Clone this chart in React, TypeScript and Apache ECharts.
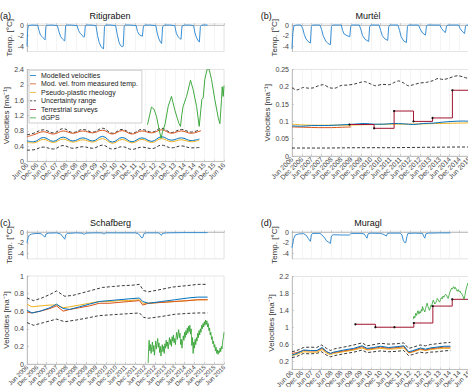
import { useEffect, useRef } from 'react';
import * as echarts from 'echarts';

// x values are months since Jun 2006 (tick every 6 months)
const xTicksShort = ['Jun 06','Dec 06','Jun 07','Dec 07','Jun 08','Dec 08','Jun 09','Dec 09','Jun 10','Dec 10','Jun 11','Dec 11','Jun 12','Dec 12','Jun 13','Dec 13','Jun 14','Dec 14','Jun 15','Dec 15','Jun 16'];
const xTicksLong = ['Jun 2006','Dec 2006','Jun 2007','Dec 2007','Jun 2008','Dec 2008','Jun 2009','Dec 2009','Jun 2010','Dec 2010','Jun 2011','Dec 2011','Jun 2012','Dec 2012','Jun 2013','Dec 2013','Jun 2014','Dec 2014','Jun 2015','Dec 2015','Jun 2016'];
const panelTitles = ['Ritigraben', 'Murtèl', 'Schafberg', 'Muragl'];
const panelLetters = ['(a)', '(b)', '(c)', '(d)'];
const legendNames = ['Modelled velocities', 'Mod. vel. from measured temp.', 'Pseudo-plastic rheology', 'Uncertainty range', 'Terrestrial surveys', 'dGPS'];

// ---------- Ritigraben ----------
const ritiTemp = [[0,-4.0],[0.4,-1.0],[0.8,-0.1],[3,0],[6.5,-0.05],[7.3,-1.0],[8.2,-1.9],[9.5,-2.3],[10.5,-2.6],[11,-2.8],[11.5,-0.3],[12,-0.05],[15,0],[18.5,-0.1],[19.5,-1.3],[20.5,-2.2],[21.5,-2.6],[22.5,-2.9],[23,-3.0],[23.5,-0.2],[24,0],[27,0],[30.5,-0.1],[31.5,-1.1],[32.5,-1.6],[33.5,-1.9],[34.5,-2.3],[35,-2.2],[35.5,-0.2],[36,0],[39,0],[42,-0.1],[43,-2.0],[44,-3.3],[45,-4.0],[46,-4.4],[46.6,-4.5],[47.2,-0.3],[48,0],[51,0],[54,-0.1],[55,-1.8],[56,-3.2],[57,-3.9],[58,-4.1],[58.6,-4.0],[59.2,-0.2],[60,0],[63,0],[66.5,-0.1],[67.3,-1.2],[68.3,-1.8],[69.5,-2.0],[70.3,-2.1],[70.9,-0.2],[72,0],[75,0],[78.5,-0.1],[79.3,-1.5],[80.3,-2.6],[81.3,-3.2],[82,-3.5],[82.6,-0.3],[84,0],[87,0],[90,-0.1],[91,-1.6],[92,-2.2],[93,-2.5],[93.8,-2.7],[94.4,-0.2],[96,0],[99,0],[101.5,-0.1],[102.3,-1.5],[103.3,-2.4],[104.3,-3.0],[105,-3.2],[105.6,-0.3],[106.5,0],[110,0]];
const ritiModel = [[0,0.54],[4,0.52],[10,0.63],[16,0.53],[22,0.64],[28,0.54],[34,0.62],[40,0.54],[46,0.66],[52,0.51],[58,0.63],[64,0.52],[70,0.62],[76,0.53],[82,0.65],[88,0.56],[94,0.62],[100,0.55],[105,0.59]];
const ritiPseudo = [[0,0.5],[4,0.49],[10,0.58],[16,0.5],[22,0.59],[28,0.51],[34,0.57],[40,0.51],[46,0.6],[52,0.48],[58,0.58],[64,0.49],[70,0.58],[76,0.5],[82,0.6],[88,0.52],[94,0.57],[100,0.52],[105,0.56]];
const ritiMeasured = [[0,0.65],[4,0.7],[10,0.78],[16,0.72],[22,0.8],[28,0.74],[34,0.8],[40,0.75],[46,0.82],[52,0.72],[58,0.81],[64,0.72],[70,0.8],[76,0.75],[82,0.83],[88,0.74],[94,0.8],[100,0.74],[106,0.81]];
const ritiUpper = [[0,0.7],[4,0.74],[10,0.83],[16,0.75],[22,0.86],[28,0.76],[34,0.84],[40,0.77],[46,0.87],[52,0.74],[58,0.84],[64,0.74],[70,0.84],[76,0.77],[82,0.87],[88,0.76],[94,0.84],[100,0.77],[105,0.83]];
const ritiLower = [[0,0.3],[4,0.31],[10,0.38],[16,0.33],[22,0.42],[28,0.35],[34,0.39],[40,0.35],[46,0.43],[52,0.33],[58,0.39],[64,0.32],[70,0.38],[76,0.34],[82,0.43],[88,0.36],[94,0.41],[100,0.36],[105,0.37]];
const ritiGPS = [[73.4,0.96],[75.8,1.42],[77.3,1.37],[78.9,1.18],[80.5,0.83],[81.7,0.61],[82.6,0.79],[84.1,0.98],[86,1.44],[88,1.7],[90,1.35],[92.5,1.0],[93.5,0.92],[94.3,1.22],[95.1,1.44],[97.2,1.7],[99.6,2.12],[101.2,1.88],[103.3,1.44],[104.9,0.92],[105.9,1.35],[106.5,1.62],[107.3,1.66],[108.3,2.14],[109.8,2.42],[111,2.4],[112.4,2.14],[114.4,1.62],[116.5,1.14],[117.5,0.99],[118.5,1.62],[118.9,1.95],[119.5,1.7],[120,1.98]];

// ---------- Murtel ----------
const murtelTemp = [[0,-4.5],[0.5,-1.5],[1.2,-0.1],[3,0],[5.5,0],[6.5,-0.6],[7.5,-1.8],[8.5,-2.6],[9.8,-3.1],[11.2,-3.4],[11.8,-0.3],[12.5,0],[17,0],[18,-0.8],[19,-2.0],[20.5,-3.0],[22,-3.5],[23.4,-3.7],[24,-0.3],[24.8,0],[30,0],[30.8,-1.0],[31.8,-1.7],[33.5,-2.0],[35.2,-2.2],[35.8,-0.2],[36.5,0],[41,0],[42,-0.9],[43,-2.0],[44.5,-2.7],[46.7,-3.1],[47.3,-0.3],[48,0],[53,0],[54,-1.0],[55,-2.0],[56.5,-2.6],[58.3,-2.9],[58.9,-0.3],[59.6,0],[64.5,0],[65.5,-1.0],[66.5,-2.2],[68,-3.0],[69.7,-3.3],[70.3,-0.3],[71,0],[77,0],[78,-0.7],[79.5,-1.5],[81.3,-1.9],[81.9,-0.2],[82.5,0],[90,0],[91,-0.6],[92.5,-1.2],[93.5,-1.4],[94.1,-0.2],[95,0],[101.5,0],[102.5,-0.7],[104,-1.3],[105.1,-1.6],[105.7,-0.2],[106.5,0],[110,0]];
const murtelModel = [[0,0.087],[6,0.086],[12,0.088],[20,0.088],[30,0.09],[38,0.092],[44,0.094],[50,0.092],[56,0.092],[62,0.094],[68,0.093],[74,0.091],[80,0.094],[86,0.095],[92,0.098],[98,0.1],[104,0.101],[110,0.1]];
const murtelPseudo = [[0,0.092],[6,0.09],[12,0.089],[20,0.089],[30,0.089],[40,0.09],[50,0.091],[60,0.092],[70,0.092],[80,0.093],[90,0.094],[100,0.095],[110,0.096]];
const murtelMeasured = [[0,0.084],[8,0.083],[16,0.082],[24,0.082],[30,0.083],[36,0.084]];
const murtelUpper = [[0,0.197],[3,0.191],[7,0.198],[10,0.196],[13,0.197],[16,0.203],[19,0.206],[23,0.197],[26,0.196],[30,0.204],[34,0.205],[38,0.208],[41,0.212],[44,0.215],[48,0.208],[51,0.203],[55,0.207],[59,0.206],[62,0.212],[65,0.217],[68,0.211],[71,0.203],[74,0.206],[78,0.211],[82,0.213],[86,0.218],[89,0.224],[92,0.221],[95,0.224],[98,0.229],[101,0.232],[104,0.229],[107,0.225],[110,0.226]];
const murtelLower = [[0,0.023],[20,0.023],[40,0.024],[60,0.024],[80,0.025],[100,0.026],[110,0.026]];
const murtelSurvey = [[35,0.091],[50,0.08],[62.2,0.13],[74,0.1],[85.6,0.11],[97.7,0.19],[110,0.19]];

// ---------- Schafberg ----------
const schafTemp = [[0,-2.0],[0.8,-0.9],[1.5,-0.5],[3,-0.3],[6,-0.2],[8.5,-0.25],[9.5,-0.5],[10.5,-0.8],[11,-0.9],[11.6,-0.3],[13,-0.15],[18,-0.1],[20.5,-0.3],[21.5,-0.7],[22.5,-1.1],[23,-1.3],[23.6,-0.5],[24.5,-0.2],[30,-0.1],[33.5,-0.15],[34.5,-0.3],[35.2,-0.35],[35.8,-0.15],[40,-0.1],[45.5,-0.1],[46.5,-0.25],[47.2,-0.3],[47.8,-0.1],[55,-0.1],[60,-0.1],[66,-0.1],[68,-0.3],[69,-0.7],[70,-1.1],[70.6,-0.9],[71.3,-0.2],[73,-0.1],[80,-0.1],[81,-0.3],[82,-0.55],[82.5,-0.2],[85,-0.1],[95,-0.05],[110,-0.05]];
const schafModel = [[0,0.61],[3,0.58],[8,0.6],[14,0.64],[18,0.68],[22,0.63],[26,0.62],[32,0.65],[38,0.68],[44,0.71],[50,0.72],[56,0.73],[62,0.74],[68.5,0.75],[70.5,0.71],[74,0.69],[82,0.71],[90,0.73],[98,0.75],[104,0.76],[110,0.76]];
const schafMeasured = [[0,0.59],[3,0.58],[8,0.6],[14,0.63],[18,0.66],[22,0.6],[26,0.62],[32,0.64],[38,0.66],[44,0.69],[50,0.69],[56,0.7],[62,0.71],[68.5,0.72],[70.5,0.67],[74,0.69],[82,0.7],[90,0.71],[98,0.72],[104,0.73],[110,0.73]];
const schafPseudo = [[0,0.68],[3,0.65],[8,0.66],[14,0.67],[18,0.67],[22,0.64],[26,0.65],[32,0.67],[38,0.69],[44,0.71],[50,0.71],[56,0.72],[62,0.72],[68.5,0.73],[70.5,0.69],[74,0.69],[82,0.7],[90,0.71],[98,0.72],[104,0.73],[110,0.73]];
const schafUpper = [[0,0.75],[4,0.72],[9,0.75],[14,0.79],[18,0.83],[23,0.77],[28,0.78],[34,0.81],[40,0.84],[46,0.87],[52,0.88],[58,0.89],[64,0.895],[68.5,0.905],[71,0.835],[74,0.82],[81,0.845],[89,0.875],[97,0.89],[104,0.905],[110,0.905]];
const schafLower = [[0,0.47],[4,0.44],[10,0.47],[18,0.51],[23,0.48],[30,0.5],[36,0.52],[44,0.55],[52,0.56],[60,0.57],[68.5,0.58],[71,0.53],[74,0.52],[82,0.54],[90,0.565],[98,0.575],[104,0.58],[110,0.58]];
const schafGPS = [[73.8,0.01],[74.1,0.18],[74.4,0.27],[74.8,0.15],[75.2,0.22],[75.6,0.12],[76,0.2],[76.4,0.25],[76.8,0.14],[77.2,0.21],[77.6,0.1],[78,0.18],[78.4,0.26],[78.8,0.17],[79.2,0.23],[79.6,0.29],[80,0.19],[80.4,0.24],[80.8,0.13],[81.2,0.2],[81.6,0.09],[82,0.16],[82.4,0.22],[82.8,0.14],[83.2,0.2],[83.6,0.12],[84,0.23],[84.4,0.18],[84.8,0.27],[85.2,0.2],[85.6,0.25],[86,0.17],[86.4,0.24],[86.8,0.3],[87.2,0.22],[87.6,0.28],[88,0.2],[88.4,0.31],[88.8,0.26],[89.2,0.33],[89.6,0.24],[90,0.29],[90.4,0.22],[90.8,0.3],[91.2,0.36],[91.6,0.28],[92,0.34],[92.4,0.39],[92.8,0.3],[93.2,0.35],[93.6,0.22],[94,0.28],[94.4,0.18],[94.8,0.25],[95.2,0.32],[95.6,0.27],[96,0.36],[96.4,0.3],[96.8,0.38],[97.2,0.33],[97.6,0.41],[98,0.35],[98.4,0.43],[98.8,0.37],[99.2,0.44],[99.6,0.34],[100,0.4],[100.4,0.21],[100.8,0.3],[101.2,0.12],[101.6,0.25],[102,0.18],[102.4,0.28],[102.8,0.22],[103.2,0.3],[103.6,0.26],[104,0.35],[104.4,0.3],[104.8,0.38],[105.2,0.33],[105.6,0.4],[106,0.36],[106.4,0.44],[106.8,0.4],[107.2,0.46],[107.6,0.42],[108,0.48],[108.4,0.44],[108.8,0.5],[109.2,0.45],[109.6,0.49],[110,0.42],[110.4,0.46],[110.8,0.38],[111.2,0.41],[111.6,0.33],[112,0.36],[112.4,0.28],[112.8,0.31],[113.2,0.23],[113.6,0.26],[114,0.19],[114.4,0.22],[114.8,0.15],[115.2,0.19],[115.6,0.12],[116,0.16],[116.4,0.11],[116.8,0.15],[117.2,0.13],[117.6,0.18],[118,0.14],[118.4,0.2],[118.8,0.17],[119.2,0.26],[119.6,0.3],[120,0.36]];

// ---------- Muragl ----------
const muraglTemp = [[0,-2.9],[1,-1.2],[2,-0.5],[4,-0.3],[7,-0.25],[8.5,-0.5],[10,-1.2],[11.2,-1.7],[11.8,-0.5],[12.5,-0.2],[17,-0.2],[18,-0.4],[19.5,-0.9],[21,-1.6],[22.5,-1.9],[23.4,-2.1],[24,-0.7],[25,-0.45],[30,-0.5],[35,-0.5],[36,-0.2],[42,-0.2],[44,-0.3],[45,-0.8],[45.7,-1.1],[46.3,-0.3],[48,-0.15],[54,-0.2],[56,-0.4],[57.5,-0.7],[58.1,-0.2],[60,-0.15],[66,-0.15],[67,-0.5],[67.8,-1.5],[68.5,-1.9],[69.3,-1.95],[70,-0.8],[70.6,-0.2],[75,-0.15],[79.5,-0.2],[80.3,-0.8],[80.9,-1.1],[81.5,-0.3],[83,-0.15],[90,-0.1],[96.5,-0.1]];
const muraglModel = [[0,0.34],[3,0.38],[7.1,0.46],[11.2,0.45],[15.2,0.45],[18.3,0.52],[21.3,0.42],[23.4,0.38],[25.4,0.41],[31.5,0.46],[37.6,0.5],[42.7,0.56],[45.7,0.5],[49.8,0.52],[53.9,0.55],[58.9,0.52],[64,0.54],[68.1,0.56],[71.1,0.42],[73.2,0.44],[78.3,0.51],[81.3,0.48],[84.3,0.51],[88.4,0.53],[92.5,0.55],[96.5,0.55]];
const muraglPseudo = [[0,0.33],[3,0.36],[7.1,0.42],[11.2,0.41],[15.2,0.41],[18.3,0.47],[21.3,0.38],[23.4,0.35],[25.4,0.38],[31.5,0.42],[37.6,0.46],[42.7,0.51],[45.7,0.46],[49.8,0.48],[53.9,0.5],[58.9,0.48],[64,0.49],[68.1,0.51],[71.1,0.39],[73.2,0.41],[78.3,0.47],[81.3,0.45],[84.3,0.47],[88.4,0.49],[92.5,0.5],[96.5,0.5]];
const muraglMeasured = [[0,0.38],[3,0.4],[7.1,0.45],[11.2,0.44],[15.2,0.44],[18.3,0.5],[21.3,0.41],[23.4,0.38],[25.4,0.4],[31.5,0.44],[37.6,0.48],[42.7,0.54],[45.7,0.48],[49.8,0.5],[53.9,0.53],[58.9,0.5],[64,0.52],[68.1,0.54],[71.1,0.4],[73.2,0.42],[78.3,0.49],[81.3,0.46],[84.3,0.49],[88.4,0.51],[92.5,0.53],[96.5,0.53]];
const muraglUpper = [[0,0.42],[3,0.45],[7,0.52],[11,0.53],[15,0.52],[18,0.58],[21,0.5],[23.4,0.45],[26,0.49],[31.5,0.53],[37.6,0.58],[42.7,0.63],[45.7,0.56],[50,0.59],[54,0.62],[59,0.6],[64,0.61],[68,0.63],[71,0.5],[73.2,0.52],[78,0.58],[81.3,0.56],[84.3,0.59],[88.4,0.61],[92.5,0.63],[96.5,0.64]];
const muraglLower = [[0,0.28],[3,0.31],[7,0.38],[11,0.37],[15,0.38],[18,0.42],[21,0.34],[23.4,0.3],[26,0.33],[31.5,0.37],[37.6,0.41],[42.7,0.46],[45.7,0.4],[50,0.42],[54,0.44],[59,0.42],[64,0.43],[68,0.45],[71,0.33],[73.2,0.35],[78,0.41],[81.3,0.39],[84.3,0.41],[88.4,0.42],[92.5,0.44],[96.5,0.45]];
const muraglSurvey = [[38.6,1.07],[50.8,1.0],[62.4,1.0],[74.2,1.1],[85.8,1.5],[97.6,1.66],[110,1.66]];
const muraglGPS = [[73.8,1.19],[74.3,1.26],[74.8,1.22],[75.4,1.33],[75.9,1.28],[76.4,1.36],[76.8,1.39],[77.3,1.31],[77.8,1.37],[78.3,1.34],[78.8,1.42],[79.2,1.38],[79.5,1.49],[80,1.43],[80.5,1.4],[80.9,1.36],[81.4,1.45],[81.9,1.52],[82.3,1.57],[82.8,1.49],[83.3,1.44],[83.7,1.4],[84.2,1.46],[84.6,1.52],[85,1.49],[85.5,1.57],[86,1.64],[86.5,1.6],[87,1.55],[87.6,1.58],[88.1,1.63],[88.5,1.68],[89,1.65],[89.5,1.61],[90,1.6],[90.5,1.66],[91,1.7],[91.5,1.67],[92,1.74],[92.5,1.71],[93,1.75],[93.6,1.78],[94.1,1.76],[94.6,1.71],[95.1,1.68],[95.6,1.75],[96.2,1.83],[96.7,1.88],[97.2,1.92],[97.7,1.9],[98.2,1.95],[98.6,1.96],[99.1,1.91],[99.6,1.94],[100.2,1.88],[100.7,1.85],[101.2,1.89],[101.8,1.84],[102.3,1.86],[102.8,1.81],[103.3,1.8],[103.8,1.76],[104.3,1.72],[104.8,1.66],[105.3,1.75],[105.9,1.88],[106.5,1.96],[107.1,2.04],[107.6,1.98],[108.2,2.02],[109,1.97],[110,2.0]];

const C_BLUE = '#0072BD';
const C_ORANGE = '#D95319';
const C_YELLOW = '#EDB120';
const C_RED = '#A2142F';
const C_GREEN = '#2ca02c';
const C_DASH = '#222222';
const C_TEMP = '#3a8fd3';
const FONT = 'Liberation Sans, Arial, sans-serif';

const grids = [
  { left: 27, top: 24, width: 197, height: 27.5 },
  { left: 27, top: 69.5, width: 197, height: 92.2 },
  { left: 292, top: 24, width: 197, height: 27.5 },
  { left: 292, top: 69.5, width: 197, height: 86.5 },
  { left: 27, top: 231.3, width: 197, height: 27.5 },
  { left: 27, top: 276, width: 197, height: 88 },
  { left: 292, top: 231.3, width: 197, height: 27.5 },
  { left: 292, top: 276.5, width: 197, height: 93 },
];

// legend icons: a thin horizontal line (solid or dashed) inside a 6x6 box
const ICON_SOLID = 'path://M0,0h0.01v0.01h-0.01z M0,2.55h6v0.9h-6z M5.99,5.99h0.01v0.01h-0.01z';
const ICON_DASH = 'path://M0,0h0.01v0.01h-0.01z M0,2.55h2.2v0.9h-2.2z M3.8,2.55h2.2v0.9h-2.2z M5.99,5.99h0.01v0.01h-0.01z';
const legendColors = [C_BLUE, C_ORANGE, C_YELLOW, C_DASH, C_RED, C_GREEN];

const fmt = (v: number) => String(Math.round(v * 1000) / 1000);

// panels on the right run past the page edge: only label ticks that fall on the page
function makeX(i: number, labels: string[] | null, lastLabelled = 20, fontSize = 6.8) {
  return {
    type: 'value', gridIndex: i, min: 0, max: 120, interval: 6,
    axisLine: { show: true, lineStyle: { color: '#b5b5b5', width: 0.8 } },
    axisTick: { show: true, inside: true, length: 2, lineStyle: { color: '#b5b5b5', width: 0.6 } },
    splitLine: { show: true, lineStyle: { color: '#ececec', width: 0.6 } },
    axisLabel: labels
      ? { show: true, rotate: 45, fontSize, color: '#444', fontFamily: FONT, margin: 2,
          formatter: (v: number) => {
            const k = Math.round(v / 6);
            return k <= lastLabelled ? (labels[k] ?? '') : '';
          } }
      : { show: false },
  };
}

function makeY(i: number, opts: any) {
  return {
    type: 'value', gridIndex: i,
    axisLine: { show: true, lineStyle: { color: '#b5b5b5', width: 0.8 } },
    splitLine: { show: false },
    nameLocation: 'middle',
    nameTextStyle: { fontSize: 8, color: '#333', fontFamily: FONT },
    ...opts,
    axisTick: { show: true, inside: true, length: 2, lineStyle: { color: '#b5b5b5', width: 0.6 }, ...(opts.axisTick || {}) },
    axisLabel: { fontSize: 7, color: '#444', fontFamily: FONT, margin: 3, formatter: fmt, ...(opts.axisLabel || {}) },
  };
}

const tempY = (i: number, gap: number) => makeY(i, {
  min: -5, max: 0.2, name: 'Temp. [°C]', nameGap: gap,
  axisLabel: { customValues: [-4, -2, 0] },
  axisTick: { customValues: [-4, -2, 0] },
});

function line(name: string, data: number[][], idx: number, color: string, extra: any = {}) {
  return {
    type: 'line', name, data, xAxisIndex: idx, yAxisIndex: idx,
    symbol: 'none', showSymbol: false, silent: true,
    lineStyle: { color, width: 1 }, itemStyle: { color },
    ...extra,
  };
}
const dashed = (data: number[][], idx: number, smooth: any = false) =>
  line('Uncertainty range', data, idx, C_DASH, { smooth, lineStyle: { color: C_DASH, width: 0.9, type: [3, 2] } });
const survey = (data: number[][], idx: number) => ({
  type: 'line', name: 'Terrestrial surveys', data, xAxisIndex: idx, yAxisIndex: idx, step: 'end',
  symbol: 'circle', symbolSize: 2.2, showSymbol: true, silent: true,
  lineStyle: { color: C_RED, width: 1 }, itemStyle: { color: '#111' },
});

const option: any = {
  animation: false,
  backgroundColor: '#ffffff',
  textStyle: { fontFamily: FONT },
  grid: grids.map((g) => ({ ...g, show: true, borderColor: '#d4d4d4', borderWidth: 0.6, backgroundColor: 'transparent', containLabel: false, outerBoundsMode: 'none' })),
  xAxis: [
    makeX(0, null), makeX(1, xTicksShort),
    makeX(2, null), makeX(3, xTicksLong, 18),
    makeX(4, null), makeX(5, xTicksLong, 20, 6.2),
    makeX(6, null), makeX(7, xTicksShort, 18),
  ],
  yAxis: [
    tempY(0, 11),
    makeY(1, { min: 0, max: 2.4, interval: 0.4, name: 'Velocities [ma⁻¹]', nameGap: 11.5 }),
    tempY(2, 11),
    makeY(3, { min: 0, max: 0.25, interval: 0.05, name: 'Velocities [ma⁻¹]', nameGap: 17 }),
    tempY(4, 11),
    makeY(5, { min: 0, max: 1, interval: 0.2, name: 'Velocities [ma⁻¹]', nameGap: 11.5 }),
    tempY(6, 11),
    makeY(7, { min: 0, max: 2.2, name: 'Velocities [ma⁻¹]', nameGap: 13,
      axisLabel: { customValues: [0.2, 0.6, 1, 1.4, 1.8, 2.2] },
      axisTick: { customValues: [0.2, 0.6, 1, 1.4, 1.8, 2.2] } }),
  ],
  legend: {
    show: true,
    data: legendNames.map((n, i) => ({
      name: n,
      icon: n === 'Uncertainty range' ? ICON_DASH : ICON_SOLID,
      itemStyle: { color: legendColors[i], borderWidth: 0 },
    })),
    orient: 'vertical', left: 29, top: 70.3,
    itemWidth: 6, itemHeight: 6, itemGap: 1.5, padding: [1.6, 4, 1.6, 1],
    borderColor: '#b0b0b0', borderWidth: 0.6, backgroundColor: '#ffffff',
    itemStyle: { borderWidth: 0 },
    textStyle: { fontSize: 7, lineHeight: 6, color: '#222', fontFamily: FONT },
    selectedMode: false,
  },
  graphic: [
    ...panelTitles.map((t, i) => ({
      type: 'text', x: [110, 368, 110.5, 368][i], y: [16, 16, 223, 223][i],
      style: { text: t, fontSize: 9, fill: '#111', align: 'center', verticalAlign: 'middle', fontFamily: FONT },
    })),
    ...panelLetters.map((t, i) => ({
      type: 'text', x: [0, 260.7, 0, 260.7][i], y: [16, 16, 223, 223][i],
      style: { text: t, fontSize: 9, fill: '#111', align: 'left', verticalAlign: 'middle', fontFamily: FONT },
    })),
  ],
  series: [
    // Ritigraben
    line('Temperature', ritiTemp, 0, C_TEMP),
    dashed(ritiUpper, 1, 0.4), dashed(ritiLower, 1, 0.4),
    line('Pseudo-plastic rheology', ritiPseudo, 1, C_YELLOW, { smooth: 0.4 }),
    line('Mod. vel. from measured temp.', ritiMeasured, 1, C_ORANGE, { smooth: 0.4 }),
    line('Modelled velocities', ritiModel, 1, C_BLUE, { smooth: 0.4 }),
    line('Terrestrial surveys', [], 1, C_RED),
    line('dGPS', ritiGPS, 1, C_GREEN, { lineStyle: { color: C_GREEN, width: 0.9 } }),
    // Murtel
    line('Temperature', murtelTemp, 2, C_TEMP),
    dashed(murtelUpper, 3, 0.3), dashed(murtelLower, 3),
    line('Pseudo-plastic rheology', murtelPseudo, 3, C_YELLOW, { smooth: 0.3 }),
    line('Mod. vel. from measured temp.', murtelMeasured, 3, C_ORANGE, { smooth: 0.3 }),
    line('Modelled velocities', murtelModel, 3, C_BLUE, { smooth: 0.3 }),
    survey(murtelSurvey, 3),
    // Schafberg
    line('Temperature', schafTemp, 4, C_TEMP),
    dashed(schafUpper, 5), dashed(schafLower, 5),
    line('Pseudo-plastic rheology', schafPseudo, 5, C_YELLOW),
    line('Mod. vel. from measured temp.', schafMeasured, 5, C_ORANGE),
    line('Modelled velocities', schafModel, 5, C_BLUE),
    line('dGPS', schafGPS, 5, C_GREEN, { lineStyle: { color: C_GREEN, width: 0.8 } }),
    // Muragl
    line('Temperature', muraglTemp, 6, C_TEMP),
    dashed(muraglUpper, 7), dashed(muraglLower, 7),
    line('Pseudo-plastic rheology', muraglPseudo, 7, C_YELLOW),
    line('Mod. vel. from measured temp.', muraglMeasured, 7, C_ORANGE),
    line('Modelled velocities', muraglModel, 7, C_BLUE),
    survey(muraglSurvey, 7),
    line('dGPS', muraglGPS, 7, C_GREEN, { lineStyle: { color: C_GREEN, width: 0.8 } }),
  ],
};

export default function App() {
  const ref = useRef<HTMLDivElement>(null);
  useEffect(() => {
    document.body.style.margin = '0';
    const chart = echarts.init(ref.current!, null, { renderer: 'svg' });
    chart.setOption(option);
    return () => chart.dispose();
  }, []);
  return <div ref={ref} style={{ position: 'absolute', left: 0, top: 0, width: 468, height: 387, overflow: 'hidden' }} />;
}
